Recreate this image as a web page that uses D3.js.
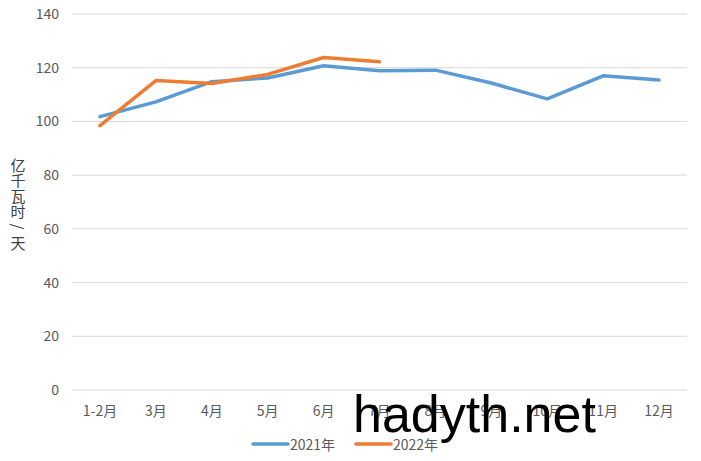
<!DOCTYPE html>
<html><head><meta charset="utf-8">
<script src="https://cdn.jsdelivr.net/npm/d3@7"></script>
<style>body{margin:0;background:#fff;}svg{display:block;}</style>
</head><body>
<svg id="c" width="701" height="461"></svg>
<script>
const categories = ["1-2月","3月","4月","5月","6月","7月","8月","9月","10月","11月","12月"];
const series2021 = [101.8,107.3,114.8,116.2,120.7,118.9,119.1,114.3,108.4,117.0,115.4];
const series2022 = [98.4,115.2,114.1,117.5,123.8,122.2];
const yTicks = [0,20,40,60,80,100,120,140];
const yTitle = ["亿","千","瓦","时","/","天"];
const seriesNames = ["2021年","2022年"];
const colors = ["#5B9BD5","#ED7D31"];

const svg = d3.select("#c");
const font = "'Noto Sans CJK SC','Liberation Sans',sans-serif";
const x = d3.scaleBand().domain(categories).range([72,687]);
const y = d3.scaleLinear().domain([0,140]).range([390,14]);

// gridlines
svg.append("g").selectAll("line").data(yTicks).join("line")
  .attr("x1",72).attr("x2",687).attr("y1",d=>y(d)).attr("y2",d=>y(d))
  .attr("stroke","#D9D9D9").attr("stroke-width",1);

// y axis labels
const yAxis = d3.axisLeft(y).tickValues(yTicks).tickSize(0).tickPadding(0);
const gy = svg.append("g").attr("transform","translate(59,0)").call(yAxis);
gy.select(".domain").remove();
gy.selectAll("text").attr("font-family",font).attr("font-size",14).attr("fill","#595959");

// x axis labels
const xAxis = d3.axisBottom(x).tickSize(0).tickPadding(0);
const gx = svg.append("g").attr("transform","translate(0,401)").call(xAxis);
gx.select(".domain").remove();
gx.selectAll("text").attr("font-family",font).attr("font-size",14).attr("fill","#595959")
  .attr("dy",null).attr("y",9).attr("dominant-baseline","central");

// y title (vertical stacked)
const yt = svg.append("g");
yTitle.forEach((ch,i)=>{
  const cy = 164 + i*15.6;
  const g = yt.append("g").attr("transform",`translate(18,${cy})` + (ch==="/" ? " rotate(90)" : ""));
  g.append("text").attr("x",0).attr("y",0).attr("text-anchor","middle")
    .attr("dominant-baseline","central").attr("font-family",font).attr("font-size",15)
    .attr("fill","#404040").text(ch);
});

// lines
const line = d3.line().x((d,i)=>x(categories[i])+x.bandwidth()/2).y(d=>y(d));
[series2021,series2022].forEach((s,k)=>{
  svg.append("path").datum(s).attr("d",line).attr("fill","none")
    .attr("stroke",colors[k]).attr("stroke-width",3.5)
    .attr("stroke-linejoin","round").attr("stroke-linecap","round");
});

// legend
const legX = [253,356];
seriesNames.forEach((n,k)=>{
  svg.append("line").attr("x1",legX[k]).attr("x2",legX[k]+35).attr("y1",444).attr("y2",444)
    .attr("stroke",colors[k]).attr("stroke-width",3.5).attr("stroke-linecap","round");
  svg.append("text").attr("x",legX[k]+37).attr("y",444).attr("dominant-baseline","central")
    .attr("font-family",font).attr("font-size",14).attr("fill","#595959").text(n);
});

// watermark
svg.append("text").attr("x",353).attr("y",432).attr("font-family","'Liberation Sans',Arial,sans-serif")
  .attr("font-size",52).attr("fill","#000").text("hadyth.net");
</script>
</body></html>
